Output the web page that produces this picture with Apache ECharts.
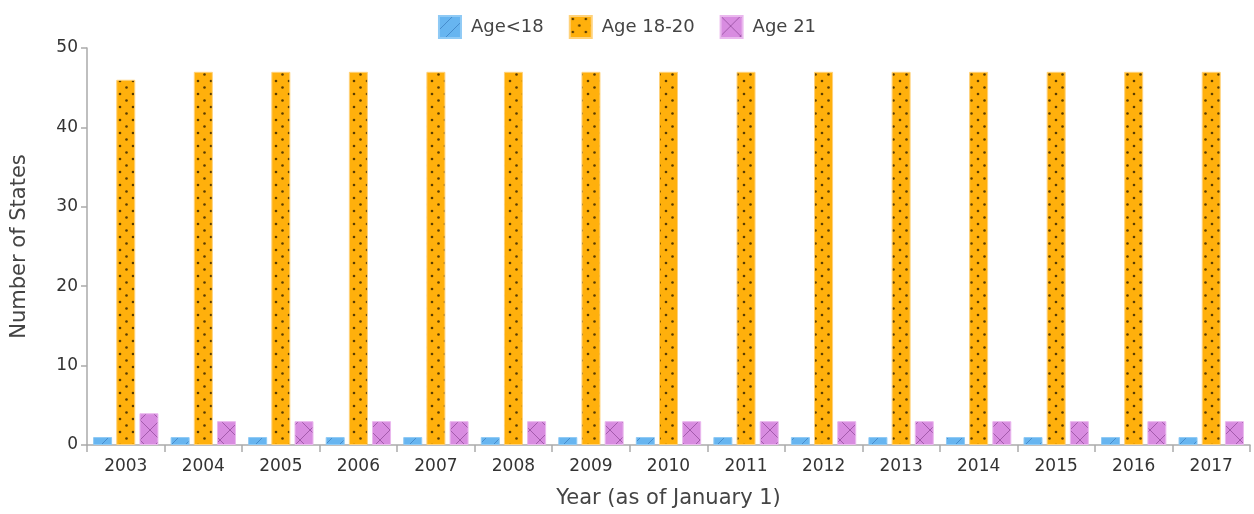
<!DOCTYPE html>
<html><head><meta charset="utf-8">
<script src="https://cdn.jsdelivr.net/npm/echarts@6/dist/echarts.min.js"></script>
<style>html,body{margin:0;padding:0;background:#fff}#c{width:1254px;height:514px}</style>
</head><body><div id="c"></div>
<script>
var years = ['2003','2004','2005','2006','2007','2008','2009','2010','2011','2012','2013','2014','2015','2016','2017'];
var under18 = [1,1,1,1,1,1,1,1,1,1,1,1,1,1,1];
var age18to20 = [46,47,47,47,47,47,47,47,47,47,47,47,47,47,47];
var age21 = [4,3,3,3,3,3,3,3,3,3,3,3,3,3,3];
var yTicks = [0,10,20,30,40,50];

function pat(bg, draw, w, h){
  var c=document.createElement('canvas'); c.width=w; c.height=h;
  var g=c.getContext('2d'); g.fillStyle=bg; g.fillRect(0,0,w,h); draw(g,w,h);
  return {image:c, repeat:'repeat'};
}
var bluePat = pat('#67b5f0', function(g,w,h){
  g.strokeStyle='rgba(30,90,160,0.45)'; g.lineWidth=1;
  g.beginPath(); g.moveTo(0,h); g.lineTo(w,0); g.moveTo(-w,h); g.lineTo(0,0); g.moveTo(w,h*2); g.lineTo(w*2,h); g.stroke();
}, 14, 14);
var orangePat = pat('#ffb00c', function(g,w,h){
  g.fillStyle='rgba(60,40,0,0.85)';
  [[3,3],[9.5,9.5]].forEach(function(p){g.beginPath();g.arc(p[0],p[1],1.3,0,Math.PI*2);g.fill();});
}, 13, 13);
var purplePat = pat('#d88ce0', function(g,w,h){
  g.strokeStyle='rgba(110,40,120,0.5)'; g.lineWidth=1;
  g.beginPath(); g.moveTo(0,0); g.lineTo(w,h); g.moveTo(0,h); g.lineTo(w,0); g.stroke();
}, 20, 20);

var font = "'DejaVu Sans', Verdana, sans-serif";
var chart = echarts.init(document.getElementById('c'));
chart.setOption({
  animation:false,
  textStyle:{fontFamily:font},
  legend:{top:10, left:'center', itemWidth:22, itemHeight:22, itemGap:25, icon:'rect',
    textStyle:{fontFamily:font, fontSize:18, color:'#444', padding:[0,0,0,5]},
    data:['Age<18','Age 18-20','Age 21']},
  grid:{left:87, right:4, top:48, bottom:67},
  xAxis:{type:'category', data:years, name:'Year (as of January 1)', nameLocation:'middle', nameGap:43,
    nameTextStyle:{fontSize:21, color:'#444', fontFamily:font},
    axisLine:{lineStyle:{color:'#aaa', width:1.5}},
    axisTick:{show:true, length:7, lineStyle:{color:'#aaa', width:1.5}},
    axisLabel:{fontSize:17, color:'#333', margin:13, fontFamily:font}},
  yAxis:{type:'value', min:0, max:50, interval:10, name:'Number of States', nameLocation:'middle', nameGap:57,
    nameTextStyle:{fontSize:21, color:'#444', fontFamily:font},
    axisLine:{show:true, lineStyle:{color:'#aaa', width:1.5}},
    axisTick:{show:true, length:6, lineStyle:{color:'#aaa', width:1.5}},
    splitLine:{show:false},
    axisLabel:{fontSize:17, color:'#333', margin:9, fontFamily:font,
      formatter:function(v){return yTicks.indexOf(v)>=0?String(v):'';}}},
  series:[
    {name:'Age<18', type:'bar', data:under18, barWidth:19, barGap:'22%',
      itemStyle:{color:bluePat, borderColor:'#8fcaf5', borderWidth:1}},
    {name:'Age 18-20', type:'bar', data:age18to20, barWidth:19, barGap:'22%',
      itemStyle:{color:orangePat, borderColor:'#ffd27a', borderWidth:1}},
    {name:'Age 21', type:'bar', data:age21, barWidth:19, barGap:'22%',
      itemStyle:{color:purplePat, borderColor:'#eab8ee', borderWidth:1}}
  ]
});
</script></body></html>
